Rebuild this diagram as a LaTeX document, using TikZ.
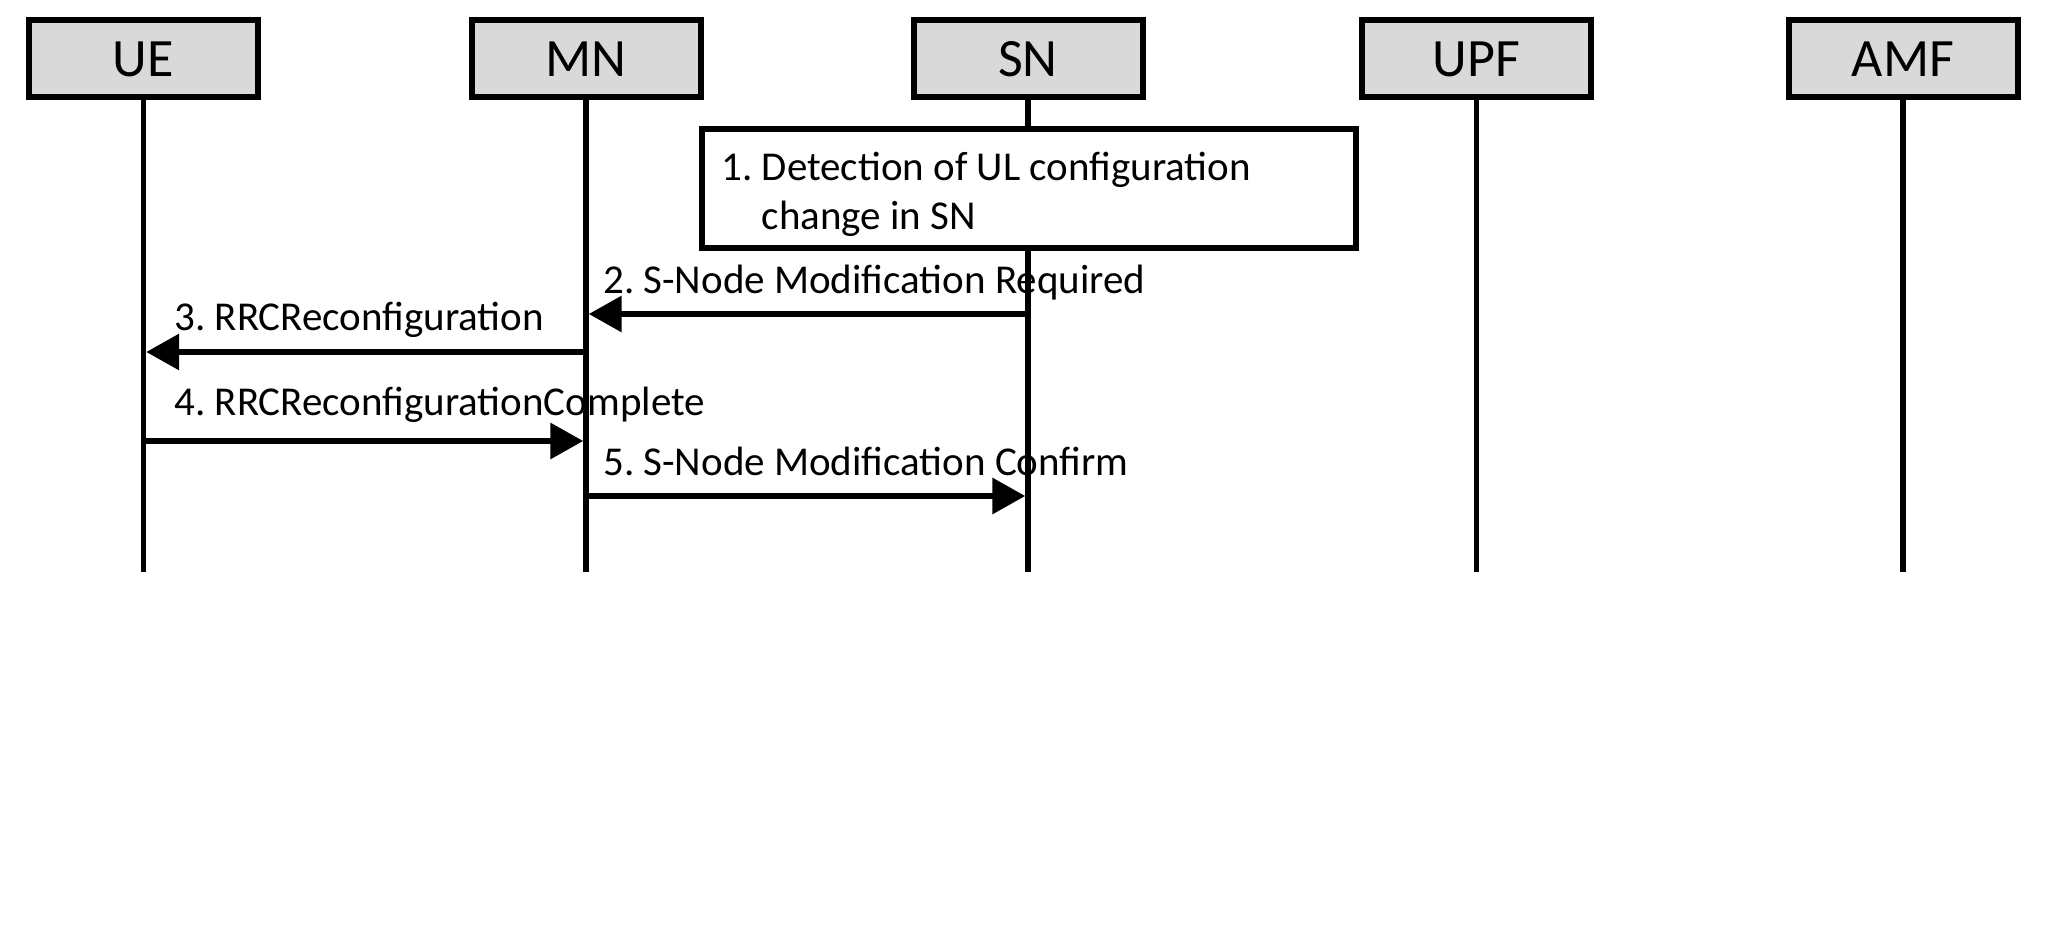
\documentclass[tikz,border=0pt]{standalone}
\usepackage{fontspec}
\setmainfont{Carlito}
\usetikzlibrary{arrows.meta}
\definecolor{boxgray}{HTML}{D9D9D9}
\frenchspacing
\begin{document}
\begin{tikzpicture}[x=0.5pt,y=-0.5pt,
 actor/.style={draw, line width=3pt, fill=boxgray, minimum width=114.5pt, minimum height=38.5pt, inner sep=0pt, font=\fontsize{27}{32}\selectfont},
 life/.style={line width=2.7pt},
 notebox/.style={draw, line width=3pt, fill=white, minimum width=327pt, minimum height=59.5pt, inner sep=0pt},
 msg/.style={line width=3.2pt, -{Triangle[length=16.5pt,width=17.5pt]}, shorten >=1.35pt},
 lbl/.style={inner sep=0pt, anchor=base west, font=\fontsize{20.5}{25}\selectfont}]
\useasboundingbox (0,0) rectangle (2048,940);
% actors
\node[actor] (ue)  at (143.5,59) {UE};
\node[actor] (mn)  at (586,59)   {MN};
\node[actor] (sn)  at (1028,59)  {SN};
\node[actor] (upf) at (1476.5,59) {UPF};
\node[actor] (amf) at (1903,59)  {AMF};
% lifeline ends
\coordinate (bot) at (0,572);
\foreach \a in {ue,mn,sn,upf,amf}
  \draw[life] (\a.south) -- (\a |- bot);
% note
\node[notebox] (note) at (1028.5,188.5) {};
\node[lbl] (n1a) at (721,181) {1. Detection of UL configuration};
\node[lbl] (n1b) at (721,230) {\phantom{1. }change in SN};
% message rows
\coordinate (m2) at (0,314);
\coordinate (m3) at (0,352);
\coordinate (m4) at (0,441);
\coordinate (m5) at (0,496);
\draw[msg] (sn |- m2) -- (mn |- m2);
\draw[msg] (mn |- m3) -- (ue |- m3);
\draw[msg] (ue |- m4) -- (mn |- m4);
\draw[msg] (mn |- m5) -- (sn |- m5);
% labels
\node[lbl] (l2) at (603,294) {2. S-Node Modification Required};
\node[lbl] (l3) at (174,330.5) {3. RRCReconfiguration};
\node[lbl] (l4) at (174,415.5) {4. RRCReconfigurationComplete};
\node[lbl] (l5) at (603,475.5) {5. S-Node Modification Confirm};
\end{tikzpicture}
\end{document}
